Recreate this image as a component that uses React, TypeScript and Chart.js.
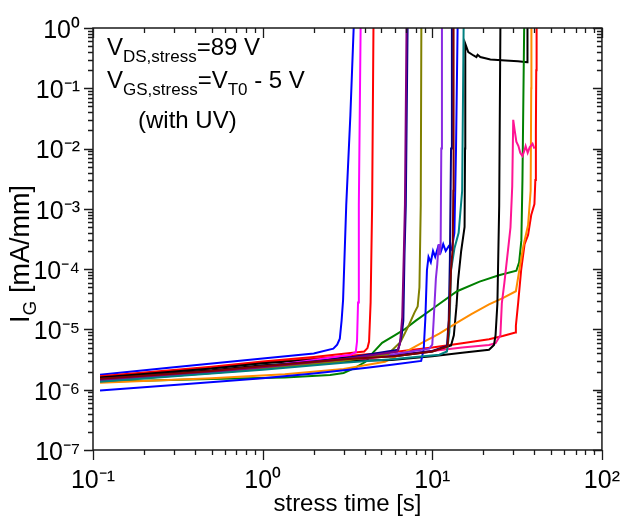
import React, { useEffect, useRef } from 'react';
import { Chart, registerables } from 'chart.js';

Chart.register(...registerables);

type Pt = [number, number];

const X_TICKS = [0.1, 1, 10, 100];
const Y_TICKS = [1e-7, 1e-6, 1e-5, 1e-4, 1e-3, 1e-2, 1e-1, 1];

const BLUE_A: Pt[] = [[0.11, 1.77e-6], [0.3, 2.35e-6], [1, 3.3e-6], [2, 4.0e-6], [2.61, 4.8e-6], [2.75, 5.6e-6], [2.85, 7e-6], [2.92, 1.4e-5], [2.98, 3.1e-5], [3.11, 1.15e-3], [3.29, 3.6e-2], [3.44, 1]];
const MAGENTA: Pt[] = [[0.11, 1.45e-6], [0.5, 2.0e-6], [1, 2.4e-6], [2, 3.1e-6], [3.3, 3.8e-6], [3.54, 4.2e-6], [3.6, 6.3e-6], [3.65, 2.8e-5], [3.69, 1.15e-3], [3.78, 1]];
const RED_A: Pt[] = [[0.11, 1.68e-6], [0.5, 2.4e-6], [1, 2.95e-6], [2, 3.5e-6], [3.97, 4.3e-6], [4.15, 4.9e-6], [4.24, 6.3e-6], [4.33, 2.8e-5], [4.42, 1.15e-3], [4.5, 1]];
const PURPLE: Pt[] = [[0.11, 1.42e-6], [0.5, 1.95e-6], [1, 2.35e-6], [3, 3.2e-6], [6.2, 4.3e-6], [6.45, 5.8e-6], [6.65, 1.6e-5], [6.8, 2e-4], [6.9, 1.2e-3], [7.05, 1]];
const NAVY_A: Pt[] = [[0.11, 1.5e-6], [0.5, 2.0e-6], [1, 2.45e-6], [3, 3.3e-6], [6.3, 4.6e-6], [6.6, 8e-6], [6.75, 1.4e-5], [6.86, 1.8e-4], [6.98, 1.15e-3], [7.15, 1]];
const OLIVE: Pt[] = [[0.11, 1.38e-6], [0.5, 1.9e-6], [1, 2.25e-6], [3, 3.0e-6], [5.5, 3.9e-6], [6.5, 6.2e-6], [7.3, 1.2e-5], [7.85, 1.9e-5], [8.2, 2.4e-5], [8.4, 5e-5], [8.55, 1.15e-3], [8.62, 1]];
const VIOLET: Pt[] = [[0.11, 1.45e-6], [0.5, 1.95e-6], [1, 2.3e-6], [3, 3.1e-6], [6, 3.9e-6], [9.6, 4.8e-6], [10, 5.6e-6], [10.2, 1.5e-5], [10.5, 7e-5], [10.7, 1.2e-4], [10.9, 2.6e-4], [11.05, 1.7e-4], [11.2, 2.4e-4], [11.3, 1e-2], [11.4, 1]];
const BLUE_B: Pt[] = [[0.11, 0.97e-6], [0.3, 1.2e-6], [1, 1.55e-6], [2, 1.86e-6], [4, 2.3e-6], [5.77, 2.6e-6], [8.6, 3e-6], [8.9, 4.7e-6], [9.1, 1.5e-5], [9.3, 9.6e-5], [9.5, 1.6e-4], [9.8, 1.3e-4], [10.1, 2e-4], [10.4, 1.6e-4], [10.8, 2.3e-4], [11.2, 1.9e-4], [11.6, 2.6e-4], [12.0, 2.0e-4], [12.5, 2.4e-4], [13.0, 2.1e-4], [13.5, 4e-4], [13.8, 1e-2], [14.1, 1]];
const MAROON: Pt[] = [[0.11, 1.52e-6], [0.5, 2.05e-6], [1, 2.45e-6], [3, 3.2e-6], [6, 3.6e-6], [10, 4.3e-6], [12.3, 5.2e-6], [12.6, 1.8e-5], [12.9, 1e-4], [13.2, 2.3e-4], [13.3, 2e-3], [13.35, 1]];
const NAVY_B: Pt[] = [[0.11, 1.48e-6], [0.5, 2.0e-6], [1, 2.4e-6], [3, 3.2e-6], [6, 3.7e-6], [10, 4.4e-6], [12.2, 5.3e-6], [12.5, 1.4e-5], [12.7, 1.5e-4], [12.9, 1e-2], [13.05, 1]];
const TEAL: Pt[] = [[0.11, 1.35e-6], [0.5, 1.85e-6], [1, 2.15e-6], [3, 2.8e-6], [5.77, 3.2e-6], [11, 3.8e-6], [12.2, 4.3e-6], [12.6, 9e-6], [12.9, 9.6e-5], [13.5, 2.2e-4], [14.3, 4e-4], [15, 2e-3], [15.3, 1]];
const BLACK_A: Pt[] = [[0.11, 1.6e-6], [0.5, 2.25e-6], [1, 2.75e-6], [3, 3.4e-6], [6, 3.6e-6], [10, 4.3e-6], [12.9, 5.4e-6], [13.4, 8e-6], [13.9, 2.5e-5], [14.2, 6.6e-5], [14.8, 2e-4], [15.5, 5e-4], [15.6, 1e-2], [15.65, 0.55], [16.3, 0.4], [17.5, 0.35], [18.2, 0.33], [18.5, 0.36], [19.2, 0.33], [22, 0.3], [27, 0.29], [32, 0.28], [36.3, 0.27], [36.4, 1]];
const BLACK_B: Pt[] = [[0.11, 1.55e-6], [0.5, 2.1e-6], [1, 2.55e-6], [3, 3.0e-6], [5.77, 3.1e-6], [10, 3.6e-6], [15, 4.1e-6], [21.6, 4.6e-6], [23.1, 5.5e-6], [23.6, 8e-6], [24.2, 2.7e-5], [24.8, 1.15e-3], [25.2, 1]];
const PINK: Pt[] = [[0.11, 1.4e-6], [0.5, 1.9e-6], [1, 2.2e-6], [3, 2.9e-6], [5.77, 3.7e-6], [10, 4.4e-6], [15, 5e-6], [21.6, 5.5e-6], [23.6, 5.9e-6], [25.2, 8e-6], [25.7, 2.7e-5], [26.6, 5.9e-5], [28.2, 2.6e-4], [28.9, 4.9e-4], [29.6, 2.4e-3], [30, 0.03], [30.6, 0.02], [31.3, 0.013], [32.2, 0.011], [33, 0.0085], [34, 0.0075], [35, 0.0095], [35.5, 0.011], [36.5, 0.0085], [37.5, 0.0105], [39, 0.012], [40, 0.01]];
const GREEN: Pt[] = [[0.11, 1.35e-6], [0.5, 1.5e-6], [1.35, 1.6e-6], [2.5, 1.75e-6], [3, 1.9e-6], [3.5, 2.3e-6], [4.04, 2.9e-6], [4.5, 4.2e-6], [5.06, 6.0e-6], [6, 8e-6], [6.85, 1e-5], [8, 1.4e-5], [9.8, 2.1e-5], [14, 4.3e-5], [19, 6.2e-5], [24.7, 7.9e-5], [31.3, 9.4e-5], [32.5, 1.3e-4], [33.5, 3e-4], [34, 3e-3], [34.8, 1]];
const ORANGE: Pt[] = [[0.11, 1.3e-6], [0.5, 1.55e-6], [1.35, 1.8e-6], [3, 2.2e-6], [5.26, 2.9e-6], [7, 4.3e-6], [8.9, 6.2e-6], [11, 8.5e-6], [14, 1.3e-5], [17, 1.8e-5], [21.6, 2.6e-5], [26, 3.3e-5], [31.1, 4.3e-5], [33, 1.2e-4], [34.4, 2.4e-4], [36.7, 5.4e-4], [38, 2e-3], [38.3, 0.1], [38.4, 1]];
const RED_B: Pt[] = [[0.11, 1.62e-6], [0.5, 2.3e-6], [1, 2.8e-6], [3, 3.6e-6], [5.77, 4.2e-6], [10, 5.0e-6], [15, 5.9e-6], [21.6, 6.9e-6], [26, 7.8e-6], [30.9, 8.9e-6], [31.1, 1.15e-5], [32.1, 2.8e-5], [33.4, 9.6e-5], [35, 2.6e-4], [36.7, 3.7e-4], [38.3, 7.9e-4], [40, 1.2e-3], [40.5, 3e-3], [40.8, 2e-2], [41, 0.2], [41.2, 1]];

const SERIES: { data: Pt[]; color: string }[] = [
  { data: MAROON, color: '#800000' },
  { data: TEAL, color: '#008080' },
  { data: PURPLE, color: '#800080' },
  { data: NAVY_A, color: '#00008b' },
  { data: OLIVE, color: '#808000' },
  { data: VIOLET, color: '#8a2be2' },
  { data: NAVY_B, color: '#000080' },
  { data: BLUE_B, color: '#0000ff' },
  { data: BLACK_B, color: '#000000' },
  { data: PINK, color: '#ff1493' },
  { data: ORANGE, color: '#ff8c00' },
  { data: GREEN, color: '#008000' },
  { data: MAGENTA, color: '#ff00ff' },
  { data: BLACK_A, color: '#000000' },
  { data: RED_A, color: '#ff0000' },
  { data: RED_B, color: '#ff0000' },
  { data: BLUE_A, color: '#0000ff' },
];

const FONT = "'Liberation Sans', Arial, sans-serif";
const SUP: Record<string, string> = { '0': '⁰', '1': '¹', '2': '²', '3': '³', '4': '⁴', '5': '⁵', '6': '⁶', '7': '⁷', '8': '⁸', '9': '⁹', '-': '⁻' };
const powLabel = (v: number) => {
  const e = Math.round(Math.log10(v));
  return '10' + String(e).split('').map((c) => SUP[c]).join('');
};

type Run = { t: string; sub?: boolean };
const ANNOT_LINES: { runs: Run[]; x: number; y: number }[] = [
  { runs: [{ t: 'V' }, { t: 'DS,stress', sub: true }, { t: '=89 V' }], x: 107, y: 55 },
  { runs: [{ t: 'V' }, { t: 'GS,stress', sub: true }, { t: '=V' }, { t: 'T0', sub: true }, { t: ' - 5 V' }], x: 107, y: 88 },
  { runs: [{ t: '(with UV)' }], x: 138, y: 128 },
];
const Y_TITLE: Run[] = [{ t: 'I' }, { t: 'G', sub: true }, { t: ' [mA/mm]' }];

function drawRuns(ctx: CanvasRenderingContext2D, runs: Run[], x: number, y: number, main: number, sub: number, dy: number) {
  let cx = x;
  for (const r of runs) {
    ctx.font = `${r.sub ? sub : main}px ${FONT}`;
    ctx.fillText(r.t, cx, r.sub ? y + dy : y);
    cx += ctx.measureText(r.t).width;
  }
}
function runsWidth(ctx: CanvasRenderingContext2D, runs: Run[], main: number, sub: number) {
  let w = 0;
  for (const r of runs) {
    ctx.font = `${r.sub ? sub : main}px ${FONT}`;
    w += ctx.measureText(r.t).width;
  }
  return w;
}

const decorPlugin = {
  id: 'decor',
  afterDraw(chart: any) {
    const { ctx, chartArea: a, scales } = chart;
    const xs = scales.x;
    const ys = scales.y;
    ctx.save();
    ctx.strokeStyle = '#1a1a1a';
    ctx.lineWidth = 1.5;
    ctx.strokeRect(a.left, a.top, a.right - a.left, a.bottom - a.top);
    ctx.lineWidth = 1.3;
    ctx.beginPath();
    for (let e = -1; e <= 2; e++) {
      for (let m = 1; m <= 9; m++) {
        const v = m * Math.pow(10, e);
        if (v > 100.001) continue;
        const px = Math.round(xs.getPixelForValue(v)) + 0.5;
        const len = m === 1 ? 10 : 5;
        ctx.moveTo(px, a.bottom);
        ctx.lineTo(px, a.bottom + len);
        ctx.moveTo(px, a.top);
        ctx.lineTo(px, a.top + len);
      }
    }
    for (let e = -7; e <= 0; e++) {
      for (let m = 1; m <= 9; m++) {
        const v = m * Math.pow(10, e);
        if (v > 1.0001) continue;
        const py = Math.round(ys.getPixelForValue(v)) + 0.5;
        const len = m === 1 ? 9 : 5;
        ctx.moveTo(a.left - len, py);
        ctx.lineTo(a.left, py);
        ctx.moveTo(a.right - len, py);
        ctx.lineTo(a.right, py);
      }
    }
    ctx.stroke();

    ctx.fillStyle = '#000';
    ctx.textBaseline = 'alphabetic';
    ctx.textAlign = 'left';
    for (const l of ANNOT_LINES) drawRuns(ctx, l.runs, l.x, l.y, 24, 17, 7);

    const w = runsWidth(ctx, Y_TITLE, 27, 19);
    ctx.translate(29, 254);
    ctx.rotate(-Math.PI / 2);
    drawRuns(ctx, Y_TITLE, -w / 2, 0, 27, 19, 7);
    ctx.restore();
  },
};

export default function App() {
  const ref = useRef<HTMLCanvasElement>(null);
  useEffect(() => {
    if (!ref.current) return;
    const chart = new Chart(ref.current, {
      type: 'line',
      data: {
        datasets: SERIES.map((s) => ({
          data: s.data.map(([x, y]) => ({ x, y })),
          borderColor: s.color,
          backgroundColor: s.color,
          borderWidth: 2,
          pointRadius: 0,
          tension: 0,
          fill: false,
        })),
      },
      options: {
        animation: false,
        responsive: false,
        devicePixelRatio: 1,
        events: [],
        layout: { padding: { left: 0, right: 20, top: 19, bottom: 0 } },
        plugins: { legend: { display: false }, tooltip: { enabled: false } },
        scales: {
          x: {
            type: 'logarithmic',
            min: 0.1,
            max: 100,
            afterBuildTicks: (s: any) => { s.ticks = X_TICKS.map((v) => ({ value: v, major: true })); },
            afterFit: (s: any) => { s.height = 73; },
            grid: { display: false, drawTicks: false },
            border: { display: false },
            ticks: {
              autoSkip: false,
              maxRotation: 0,
              padding: 16,
              color: '#000',
              font: { family: FONT, size: 25 },
              callback: (v: any) => powLabel(Number(v)),
            },
            title: {
              display: true,
              text: 'stress time [s]',
              color: '#000',
              font: { family: FONT, size: 24 },
              padding: { top: 0, bottom: 4 },
            },
          },
          y: {
            type: 'logarithmic',
            min: 1e-7,
            max: 1,
            afterBuildTicks: (s: any) => { s.ticks = Y_TICKS.map((v) => ({ value: v, major: true })); },
            afterFit: (s: any) => { s.width = 93; },
            grid: { display: false, drawTicks: false },
            border: { display: false },
            ticks: {
              autoSkip: false,
              padding: 13,
              labelOffset: 3,
              color: '#000',
              font: { family: FONT, size: 25 },
              callback: (v: any) => powLabel(Number(v)),
            },
          },
        },
      },
      plugins: [decorPlugin],
    } as any);
    return () => chart.destroy();
  }, []);
  return (
    <div style={{ position: 'absolute', left: 0, top: 0, width: 636, height: 523, background: '#fff' }}>
      <canvas ref={ref} width={636} height={523} style={{ display: 'block', width: 636, height: 523 }} />
    </div>
  );
}
